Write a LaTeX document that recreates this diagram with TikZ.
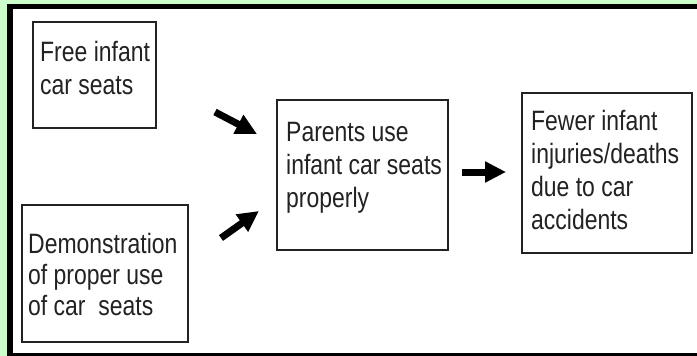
\documentclass[tikz,border=0pt]{standalone}
\usepackage{fontspec}
\setmainfont{Liberation Sans}[FakeStretch=0.82]
\usetikzlibrary{arrows.meta}
\definecolor{bggreen}{RGB}{204,255,204}
\definecolor{ink}{RGB}{34,34,34}
\tikzset{
  box/.style={draw=ink, line width=2pt, inner sep=0pt, fill=white},
  txt/.style={anchor=north west, align=left, inner sep=0pt, text=ink,
    font=\fontsize{28}{33}\selectfont},
  fatarrow/.style={line width=7pt, draw=black,
    -{Triangle[length=21pt,width=20pt]}, shorten >=0pt}
}
\begin{document}
\begin{tikzpicture}[x=1pt,y=-1pt]
\useasboundingbox (0,0) rectangle (697,356);
\fill[bggreen] (0,0) rectangle (697,356);
\fill[black] (7,4) rectangle (697,356);
\fill[white] (13,9) rectangle (697,353);

\node[box, minimum width=123pt, minimum height=106pt] (b1) at (94.5,75) {};
\node[box, minimum width=166pt, minimum height=137pt] (b2) at (105,273.5) {};
\node[box, minimum width=171pt, minimum height=150pt] (b3) at (362.5,175) {};
\node[box, minimum width=170pt, minimum height=160pt] (b4) at (607,173) {};

\node[txt] (t1) at ([xshift=8pt,yshift=-20pt]b1.north west) {Free infant\\car seats};
\node[txt, font=\fontsize{28}{31}\selectfont] (t2) at ([xshift=7pt,yshift=-29pt]b2.north west) {Demonstration\\of proper use\\of car~~seats};
\node[txt] (t3) at ([xshift=10pt,yshift=-23pt]b3.north west) {Parents use\\infant car seats\\properly};
\node[txt] (t4) at ([xshift=10pt,yshift=-18pt]b4.north west) {Fewer infant\\injuries/deaths\\due to car\\accidents};

\coordinate (a1s) at (215,112);
\coordinate (a1e) at (257,134);
\coordinate (a2s) at (221,238);
\coordinate (a2e) at (259,211);
\coordinate (a3s) at (462,172);
\coordinate (a3e) at (506,172);
\draw[fatarrow] (a1s) -- (a1e);
\draw[fatarrow] (a2s) -- (a2e);
\draw[fatarrow] (a3s) -- (a3e);
\end{tikzpicture}
\end{document}
